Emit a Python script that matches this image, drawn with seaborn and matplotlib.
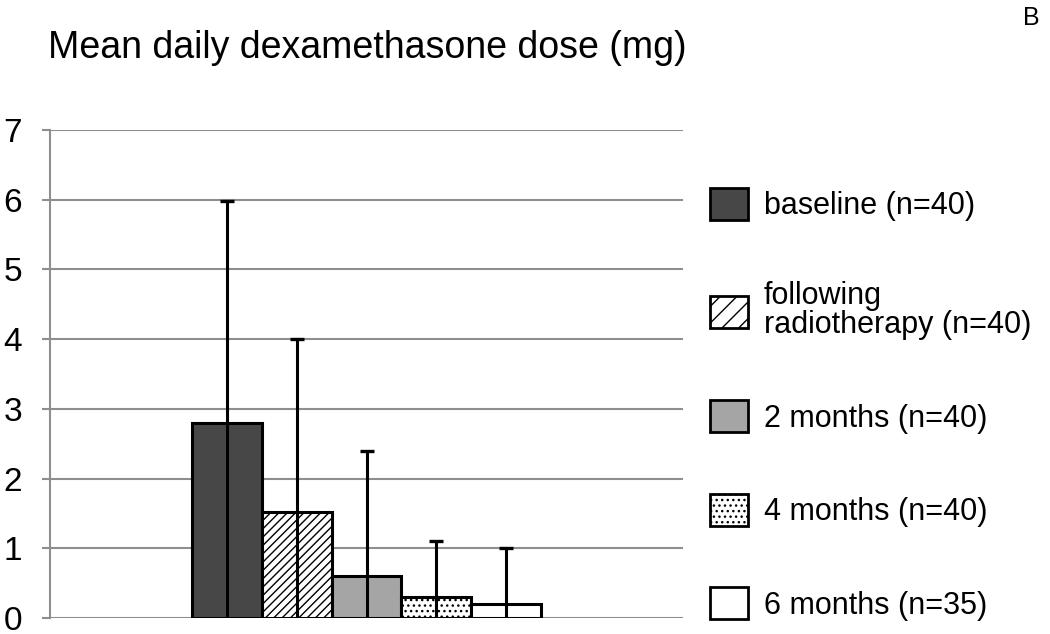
import matplotlib
matplotlib.use("Agg")
import matplotlib.pyplot as plt
from matplotlib.patches import Patch
import seaborn as sns
import pandas as pd

groups = ["baseline (n=40)", "following\nradiotherapy (n=40)", "2 months (n=40)",
          "4 months (n=40)", "6 months (n=35)"]
means = [2.8, 1.52, 0.6, 0.3, 0.2]
sds = [3.18, 2.48, 1.8, 0.8, 0.8]
colors = ["#474747", "#ffffff", "#a5a5a5", "#ffffff", "#ffffff"]
hatches = ["", "////", "", "...", ""]

df = pd.DataFrame({"time": ["dose"] * len(groups), "group": groups, "mean": means})

sns.set_style("white")
plt.rcParams["font.family"] = ["Liberation Sans", "DejaVu Sans"]
plt.rcParams["hatch.linewidth"] = 1.0
plt.rcParams["text.color"] = "black"

fig = plt.figure(figsize=(10.5, 6.34), dpi=100)
ax = fig.add_axes([0.0476, 0.0252, 0.6029, 0.7697])

sns.barplot(data=df, x="time", y="mean", hue="group", hue_order=groups,
            palette=colors, width=0.55, edgecolor="black", linewidth=2.2,
            errorbar=None, legend=False, ax=ax)

bars = [p for p in ax.patches][:len(groups)]
for p, h in zip(bars, hatches):
    p.set_hatch(h)

# error bars (lower halves fall below zero and are clipped)
xs = [p.get_x() + p.get_width() / 2 for p in bars]
ax.errorbar(xs, means, yerr=sds, fmt="none", ecolor="black", elinewidth=2.2,
            capsize=5, capthick=2.4, zorder=5)

ax.set_xlim(-0.5, 0.5)
ax.set_ylim(0, 7)
ax.set_yticks(range(0, 8))
ax.set_xticks([])
ax.set_xlabel("")
ax.set_ylabel("")
ax.yaxis.grid(True, color="#8e8e8e", linewidth=1.5)
ax.set_axisbelow(True)
for s in ["top", "right", "bottom"]:
    ax.spines[s].set_visible(False)
ax.spines["left"].set_color("#8e8e8e")
ax.spines["left"].set_linewidth(1.5)
ax.tick_params(axis="y", which="major", left=True, length=6, width=1.5,
               color="#8e8e8e", labelcolor="black", labelsize=24, pad=14)

handles = [Patch(facecolor=c, edgecolor="black", hatch=h, linewidth=2.0)
           for c, h in zip(colors, ["", "//", "", "...", ""])]
leg = fig.legend(handles, groups, loc="upper left", bbox_to_anchor=(0.662, 0.728),
                 frameon=False, fontsize=22, handlelength=1.24, handleheight=1.24,
                 handletextpad=0.5, labelspacing=1.97, borderpad=0)
for t in leg.get_texts():
    t.set_linespacing(0.95)

fig.text(48 / 1050, 1 - 58 / 634, "Mean daily dexamethasone dose (mg)",
         fontsize=27, va="baseline", ha="left")
fig.text(1023 / 1050, 1 - 25 / 634, "B", fontsize=18, va="baseline", ha="left")

fig.savefig("out.png", dpi=100)
